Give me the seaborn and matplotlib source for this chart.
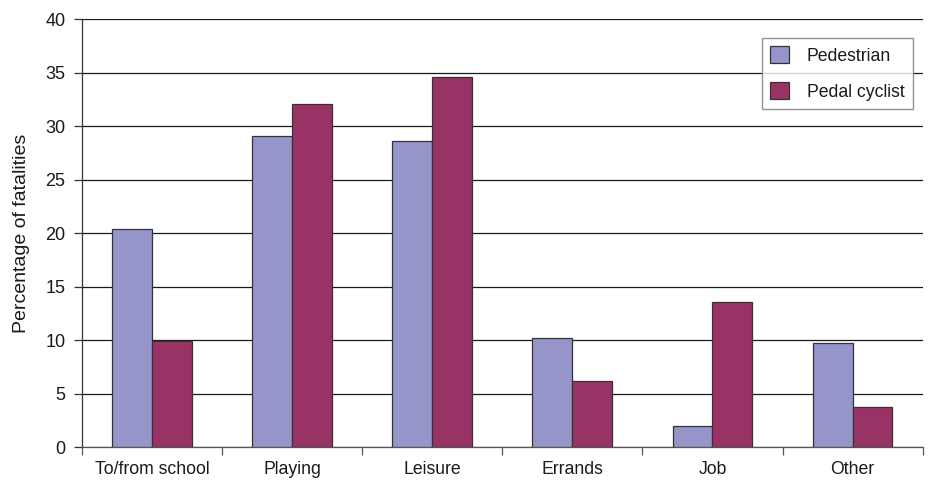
import numpy as np
import pandas as pd
import matplotlib
matplotlib.use("Agg")
import matplotlib.pyplot as plt
import seaborn as sns

categories = ["To/from school", "Playing", "Leisure", "Errands", "Job", "Other"]
pedestrian = [20.4, 29.1, 28.6, 10.2, 2.0, 9.7]
cyclist = [9.9, 32.1, 34.6, 6.2, 13.6, 3.7]
series_names = ["Pedestrian", "Pedal cyclist"]
y_ticks = [0, 5, 10, 15, 20, 25, 30, 35, 40]

df = pd.DataFrame({
    "Purpose": categories * 2,
    "Percentage": pedestrian + cyclist,
    "Road user": [series_names[0]] * len(categories) + [series_names[1]] * len(categories),
})

sns.set_style("white")
plt.rcParams["font.family"] = ["Liberation Sans", "DejaVu Sans"]

fig = plt.figure(figsize=(9.31, 4.83), dpi=100)
ax = fig.add_axes([0.088, 0.0745, 0.903, 0.886])

palette = {"Pedestrian": "#9595c9", "Pedal cyclist": "#993366"}
sns.barplot(data=df, x="Purpose", y="Percentage", hue="Road user",
            order=categories, hue_order=series_names, palette=palette,
            width=0.57, gap=0, saturation=1, edgecolor="#333333",
            linewidth=0.9, ax=ax, zorder=3)

ax.set_ylim(0, 40)
ax.set_xlim(-0.5, 5.5)
ax.set_yticks(y_ticks)
ax.yaxis.grid(True, color="#1a1a1a", linewidth=0.9, zorder=0)
ax.set_axisbelow(True)

for s in ["top", "right"]:
    ax.spines[s].set_visible(False)
ax.spines["left"].set_color("#333333")
ax.spines["bottom"].set_color("#555555")
ax.spines["left"].set_linewidth(0.9)
ax.spines["bottom"].set_linewidth(0.9)

ax.tick_params(axis="y", which="major", direction="out", length=6, width=0.9,
               color="#333333", labelsize=13, pad=6, left=True,
               labelcolor="#1a1a1a")
ax.tick_params(axis="x", which="major", length=0, labelsize=12.7, pad=10,
               labelcolor="#1a1a1a")
ax.set_xticks(np.arange(-0.5, 6.0, 1.0), minor=True)
ax.tick_params(axis="x", which="minor", direction="out", length=6, width=0.9,
               color="#555555", bottom=True)

ax.set_xlabel("")
ax.set_ylabel("Percentage of fatalities", fontsize=14, labelpad=11,
              color="#1a1a1a")

leg = ax.legend(loc="upper right", bbox_to_anchor=(0.988, 0.955), fontsize=12.7,
                frameon=True, fancybox=False, edgecolor="#777777",
                handlelength=1.1, handleheight=1.1, borderpad=0.45,
                labelspacing=1.0, handletextpad=1.0, borderaxespad=0)
leg.get_frame().set_linewidth(1.0)
for t in leg.get_texts():
    t.set_color("#1a1a1a")

fig.savefig("out.png", dpi=100)
